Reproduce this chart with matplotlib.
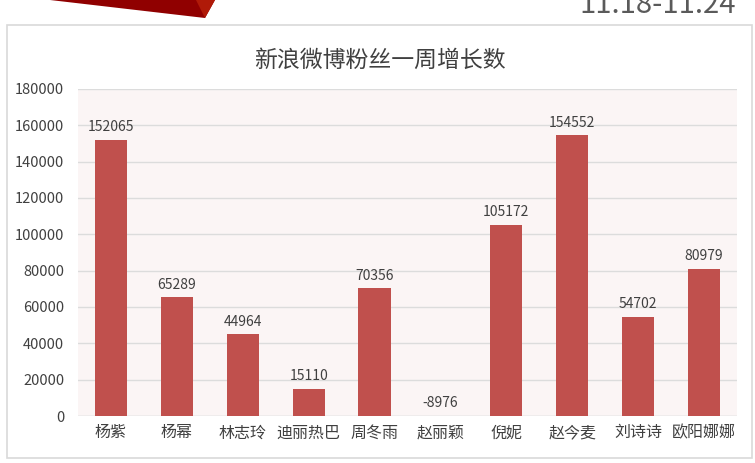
import matplotlib.pyplot as plt
from matplotlib.patches import Rectangle, Polygon
import numpy as np

plt.rcParams['font.family'] = ['Noto Sans CJK SC', 'DejaVu Sans']

# ---------------------------------------------------------------------------
# Data
# ---------------------------------------------------------------------------
names = ['杨紫', '杨幂', '林志玲', '迪丽热巴', '周冬雨',
         '赵丽颖', '倪妮', '赵今麦', '刘诗诗', '欧阳娜娜']
growth = [152065, 65289, 44964, 15110, 70356,
          -8976, 105172, 154552, 54702, 80979]
y_ticks = [0, 20000, 40000, 60000, 80000, 100000, 120000, 140000, 160000, 180000]
title = '新浪微博粉丝一周增长数'
date_range = '11.18-11.24'

W, H = 755, 463
fig = plt.figure(figsize=(W / 100, H / 100), dpi=100)
fig.patch.set_facecolor('white')

# card frame
fig.patches.append(Rectangle((7 / W, 1 - 458 / H), (752 - 7) / W, (458 - 25) / H,
                             transform=fig.transFigure, facecolor='white',
                             edgecolor='#D9D9D9', linewidth=1.2, zorder=-2))
# red ribbon corner at top
fig.patches.append(Polygon([(50 / W, 1.0), (215 / W, 1.0), (205 / W, 1 - 18 / H)],
                           closed=True, transform=fig.transFigure,
                           facecolor='#900000', edgecolor='none', zorder=-1))
fig.patches.append(Polygon([(196 / W, 1.0), (215 / W, 1.0), (205 / W, 1 - 18 / H)],
                           closed=True, transform=fig.transFigure,
                           facecolor='#B01A08', edgecolor='none', zorder=-1))
fig.text(736 / W, 1 - 13 / H, date_range, ha='right', va='baseline',
         fontsize=21, color='#5A5A5A', fontweight='light')

ax = fig.add_axes([78 / W, 1 - 416 / H, (737 - 78) / W, (416 - 89) / H])
ax.set_facecolor('#FBF5F5')

x = np.arange(len(names))
ax.bar(x, growth, width=0.49, color='#C0504D', zorder=3)
for xi, v in zip(x, growth):
    ax.annotate(str(v), (xi, max(v, 0)), xytext=(0, 4), textcoords='offset points',
                ha='center', va='bottom', fontsize=10, color='#404040', zorder=4)

ax.set_xlim(-0.5, len(names) - 0.5)
ax.set_ylim(0, 180000)
ax.set_yticks(y_ticks)
ax.set_yticklabels([str(t) for t in y_ticks])
ax.set_xticks(x)
ax.set_xticklabels(names)
ax.tick_params(axis='y', length=0, pad=10, labelsize=10.5, labelcolor='#404040')
ax.tick_params(axis='x', length=0, pad=6, labelsize=11.5, labelcolor='#404040')
ax.grid(axis='y', color='#DCDCDC', linewidth=1, zorder=0)
for s in ax.spines.values():
    s.set_visible(False)
ax.axhline(0, color='#DCDCDC', linewidth=1, zorder=2)

fig.text(380 / W, 1 - 60 / H, title, ha='center', va='center',
         fontsize=16.5, color='#404040')

plt.savefig('out.png', dpi=100, facecolor='white')
